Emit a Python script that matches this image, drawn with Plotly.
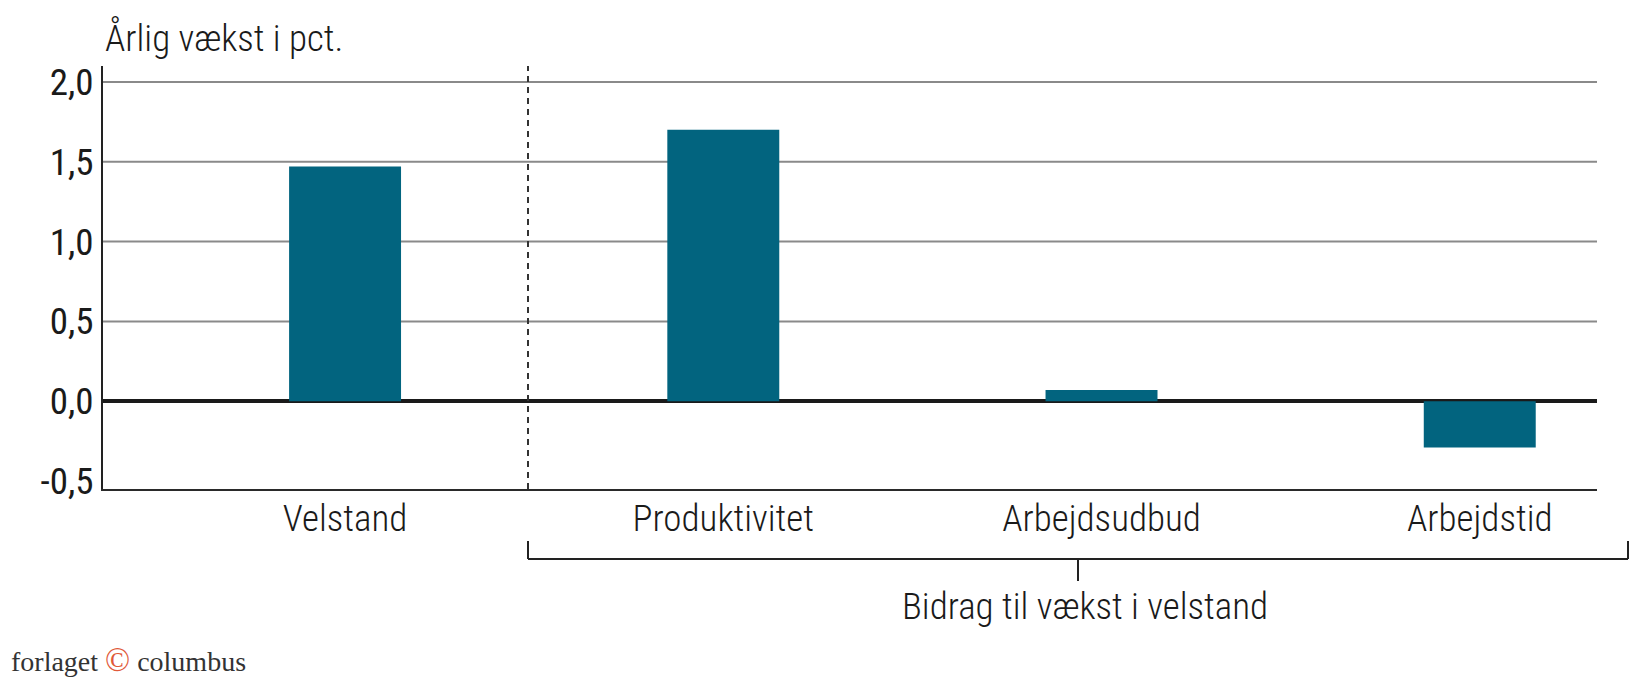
import plotly.graph_objects as go

categories = ["Velstand", "Produktivitet", "Arbejdsudbud", "Arbejdstid"]
values = [1.47, 1.70, 0.07, -0.29]
y_ticks = [-0.5, 0.0, 0.5, 1.0, 1.5, 2.0]
y_tick_labels = ["-0,5", "0,0", "0,5", "1,0", "1,5", "2,0"]
y_title = "Årlig vækst i pct."
group_label = "Bidrag til vækst i velstand"

FONT = "Roboto Condensed, Liberation Sans Narrow, Arial Narrow, DejaVu Sans Condensed, Roboto, sans-serif"
BAR = "#02647f"
TXT = "#1a1a1a"
W, H = 1645, 678
L, R, T, B = 103, 48, 66, 189
pw, ph = W - L - R, H - T - B


def px(x):
    return (x - L) / pw


def py(y):
    return (H - B - y) / ph


fig = go.Figure()
fig.add_trace(go.Bar(x=categories, y=values, marker=dict(color=BAR, line=dict(width=0)),
                     width=0.296, hoverinfo="x+y"))

fig.update_layout(
    width=W, height=H,
    margin=dict(l=L, r=R, t=T, b=B, pad=0),
    plot_bgcolor="white", paper_bgcolor="white",
    showlegend=False,
    font=dict(family=FONT, size=37, color=TXT),
    xaxis=dict(
        type="category", range=[-0.64, 3.31],
        showgrid=False, zeroline=False,
        showline=True, linecolor="#2a2a2a", linewidth=2,
        ticks="", ticklen=0, ticklabelstandoff=-4,
        tickfont=dict(family=FONT, size=37, color=TXT, weight=300),
        fixedrange=True,
    ),
    yaxis=dict(
        range=[-0.55, 2.1],
        tickvals=y_ticks, ticktext=y_tick_labels,
        showgrid=False,
        zeroline=True, zerolinecolor="#1a1a1a", zerolinewidth=3.5,
        showline=True, linecolor="#222222", linewidth=2,
        ticks="", ticklen=0,
        tickfont=dict(family=FONT, size=37, color=TXT),
        fixedrange=True,
    ),
)

# horizontal gridlines (none at the bottom tick, as in the original)
for v in y_ticks:
    if v > 0:
        fig.add_shape(type="line", xref="paper", yref="y", x0=0, x1=1, y0=v, y1=v,
                      layer="below", line=dict(color="#8a8a8a", width=2))

line_col = "#222222"
# dashed separator
fig.add_shape(type="line", xref="paper", yref="paper", x0=px(528), x1=px(528), y0=0, y1=1,
              line=dict(color="#333333", width=2, dash="6px,5px"))
# bracket
fig.add_shape(type="line", xref="paper", yref="paper", x0=px(528), x1=px(1628), y0=py(559), y1=py(559),
              line=dict(color=line_col, width=2))
fig.add_shape(type="line", xref="paper", yref="paper", x0=px(528), x1=px(528), y0=py(541), y1=py(559),
              line=dict(color=line_col, width=2))
fig.add_shape(type="line", xref="paper", yref="paper", x0=px(1628), x1=px(1628), y0=py(541), y1=py(559),
              line=dict(color=line_col, width=2))
fig.add_shape(type="line", xref="paper", yref="paper", x0=px(1078), x1=px(1078), y0=py(559), y1=py(581),
              line=dict(color=line_col, width=2))

fig.add_annotation(xref="paper", yref="paper", x=px(1085), y=py(606), text=group_label,
                   showarrow=False, xanchor="center", yanchor="middle",
                   font=dict(family=FONT, size=37, color=TXT, weight=300))
fig.add_annotation(xref="paper", yref="paper", x=px(103), y=py(37), text=y_title,
                   showarrow=False, xanchor="left", yanchor="middle",
                   font=dict(family=FONT, size=37, color=TXT, weight=300))
fig.add_annotation(xref="paper", yref="paper", x=px(9), y=py(660),
                   text="forlaget <span style='color:#e0593a;font-size:33px'>©</span> columbus",
                   showarrow=False, xanchor="left", yanchor="middle",
                   font=dict(family="Liberation Serif, DejaVu Serif, serif", size=28, color="#333333"))

fig.write_html("out.html", config={"displayModeBar": False},
               post_script="document.body.style.margin='0';")
